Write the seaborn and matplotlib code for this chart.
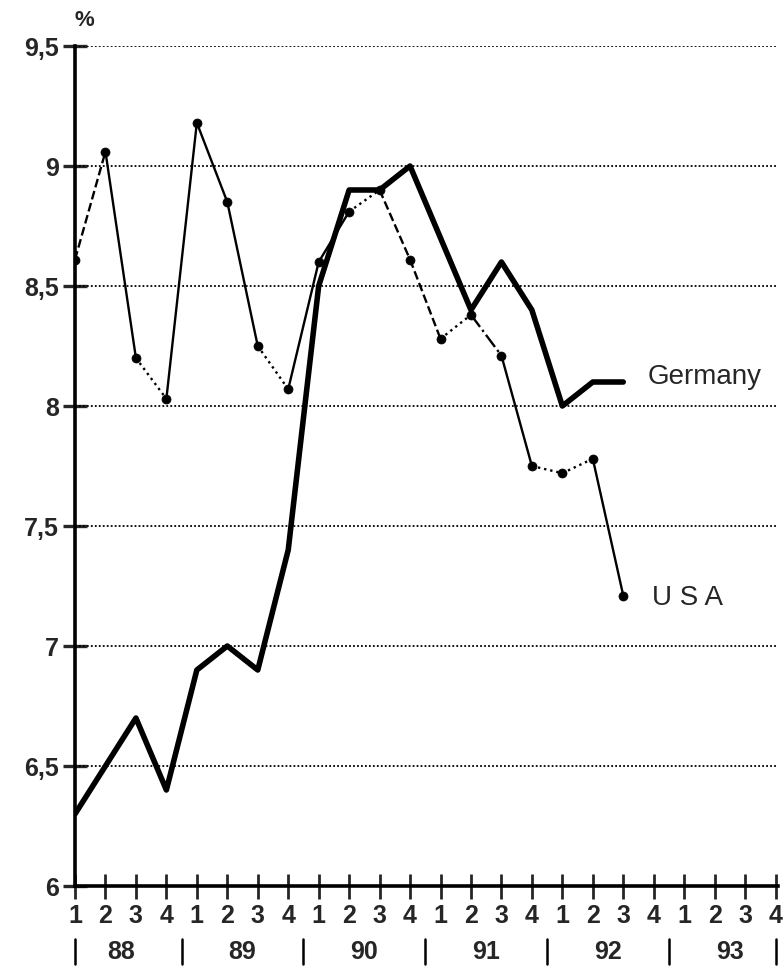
import numpy as np
import pandas as pd
import matplotlib
matplotlib.use("Agg")
import matplotlib.pyplot as plt
import matplotlib.transforms as mtransforms
import seaborn as sns

# ---- data ----
quarter_labels = ["1", "2", "3", "4"] * 6
years = ["88", "89", "90", "91", "92", "93"]
germany = [6.3, 6.5, 6.7, 6.4, 6.9, 7.0, 6.9, 7.4, 8.5, 8.9, 8.9, 9.0,
           8.7, 8.4, 8.6, 8.4, 8.0, 8.1, 8.1]
usa = [8.61, 9.06, 8.2, 8.03, 9.18, 8.85, 8.25, 8.07, 8.6, 8.81, 8.9, 8.61,
       8.28, 8.38, 8.21, 7.75, 7.72, 7.78, 7.21]
y_ticks = [6, 6.5, 7, 7.5, 8, 8.5, 9, 9.5]
y_tick_labels = ["6", "6,5", "7", "7,5", "8", "8,5", "9", "9,5"]
series_names = ["Germany", "U S A"]

# segment styles for USA line (style only)
usa_seg_styles = ["--", "-", ":", "-", "-", "-", ":", "-", "-", ":", "--", "--",
                  ":", "-.", "-", ":", ":", "-"]

sns.set_theme(style="white")
plt.rcParams["font.family"] = ["Liberation Sans", "DejaVu Sans"]

W, H = 783, 968
fig = plt.figure(figsize=(W / 100, H / 100), dpi=100)
ax = fig.add_axes([75 / W, 1 - 886 / H, 703 / W, 840 / H])

x_g = np.arange(len(germany))
x_u = np.arange(len(usa))
df_g = pd.DataFrame({"q": x_g, "v": germany})
df_u = pd.DataFrame({"q": x_u, "v": usa})

# grid lines
for yv in y_ticks[1:]:
    ax.axhline(yv, color="black", lw=1.3, ls=(0, (1, 1.2)), zorder=1)

# USA segments
for i, st in enumerate(usa_seg_styles):
    ax.plot(x_u[i:i + 2], usa[i:i + 2], color="black", lw=1.7, ls=st,
            solid_capstyle="round", zorder=3)
sns.scatterplot(data=df_u, x="q", y="v", ax=ax, color="black", s=42,
                edgecolor="black", zorder=4, legend=False)

# Germany
sns.lineplot(data=df_g, x="q", y="v", ax=ax, color="black", lw=4.0,
             zorder=5, legend=False)

ax.set_xlim(0, 23.08)
ax.set_ylim(6, 9.5)
ax.set_xlabel("")
ax.set_ylabel("")

for s in ["top", "right"]:
    ax.spines[s].set_visible(False)
for s in ["left", "bottom"]:
    ax.spines[s].set_linewidth(2.6)
    ax.spines[s].set_color("black")

ax.set_yticks(y_ticks)
ax.set_yticklabels(y_tick_labels, fontsize=18, fontweight="heavy")
ax.set_xticks(np.arange(24))
ax.set_xticklabels(quarter_labels, fontsize=18, fontweight="heavy")
ax.tick_params(axis="y", direction="inout", length=17, width=2.4, pad=3,
               left=True)
ax.tick_params(axis="x", direction="inout", length=18, width=2.0, pad=4,
               bottom=True)
ax.grid(False)

# year labels and separators
trans = mtransforms.blended_transform_factory(ax.transData, fig.transFigure)
for i, yr in enumerate(years):
    ax.text(1.5 + 4 * i, 1 - 952 / H, yr, transform=trans, ha="center",
            va="center", fontsize=18, fontweight="heavy")
for xs in [0, 3.5, 7.5, 11.5, 15.5, 19.5, 23]:
    ax.plot([xs, xs], [1 - 939 / H, 1 - 964 / H], transform=trans,
            color="black", lw=1.8, clip_on=False)

# series labels
ax.text(18.8, 8.12, series_names[0], fontsize=20, va="center", ha="left")
ax.text(18.95, 7.2, series_names[1], fontsize=20, va="center", ha="left",
        fontstretch="expanded")

# percent sign
fig.text(84 / W, 1 - 20 / H, "%", fontsize=16, fontweight="heavy",
         ha="center", va="center")

fig.savefig("out.png", dpi=100)
